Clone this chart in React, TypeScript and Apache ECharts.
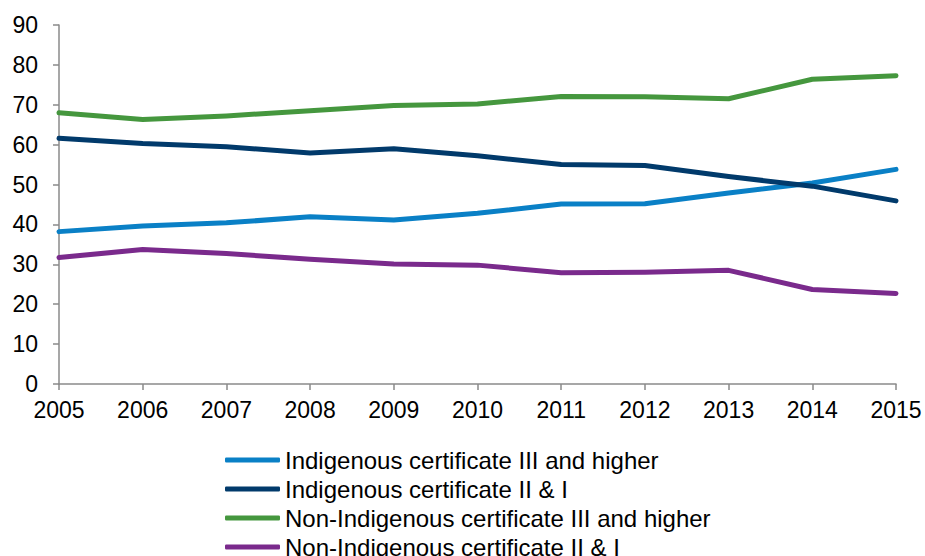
import React, { useEffect, useRef } from "react";
import * as echarts from "echarts";

const years = ["2005", "2006", "2007", "2008", "2009", "2010", "2011", "2012", "2013", "2014", "2015"];
const indigenousIIIHigher = [38.2, 39.6, 40.4, 41.9, 41.1, 42.8, 45.1, 45.2, 47.9, 50.4, 53.8];
const indigenousIII = [61.6, 60.3, 59.5, 57.9, 59.0, 57.2, 55.0, 54.8, 52.0, 49.6, 45.9];
const nonIndigenousIIIHigher = [68.0, 66.3, 67.2, 68.5, 69.8, 70.2, 72.1, 72.0, 71.5, 76.4, 77.3];
const nonIndigenousIII = [31.7, 33.7, 32.7, 31.3, 30.1, 29.8, 27.9, 28.0, 28.5, 23.7, 22.7];

const seriesNames = [
  "Indigenous certificate III and higher",
  "Indigenous certificate II & I",
  "Non-Indigenous certificate III and higher",
  "Non-Indigenous certificate II & I",
];
const seriesData = [indigenousIIIHigher, indigenousIII, nonIndigenousIIIHigher, nonIndigenousIII];
const colors = ["#0a80c6", "#013a6b", "#45973e", "#7a2a8c"];

export default function App() {
  const ref = useRef<HTMLDivElement>(null);
  useEffect(() => {
    if (!ref.current) return;
    const chart = echarts.init(ref.current, undefined, { renderer: "svg" });
    const font = "Arial, 'Liberation Sans', sans-serif";
    chart.setOption({
      animation: false,
      backgroundColor: "#ffffff",
      textStyle: { fontFamily: font },
      grid: { left: 59, right: 29, top: 25, bottom: 172, containLabel: false },
      xAxis: {
        type: "category",
        data: years,
        boundaryGap: false,
        axisLine: { lineStyle: { color: "#8a8a8a", width: 1.5 } },
        axisTick: { show: true, length: 6, lineStyle: { color: "#8a8a8a", width: 1.5 } },
        axisLabel: { color: "#000", fontSize: 23, fontFamily: font, margin: 14 },
        splitLine: { show: false },
      },
      yAxis: {
        type: "value",
        min: 0,
        max: 90,
        interval: 10,
        axisLine: { show: true, lineStyle: { color: "#8a8a8a", width: 1.5 } },
        axisTick: { show: true, length: 6, lineStyle: { color: "#8a8a8a", width: 1.5 } },
        axisLabel: { color: "#000", fontSize: 23, fontFamily: font, margin: 21 },
        splitLine: { show: false },
      },
      legend: {
        orient: "vertical",
        left: 225,
        top: 448,
        height: 140,
        padding: 0,
        itemWidth: 55,
        itemHeight: 5,
        itemGap: 5,
        icon: "roundRect",
        textStyle: { color: "#000", fontSize: 24, fontFamily: font },
        data: seriesNames,
      },
      series: seriesNames.map((name, i) => ({
        name,
        type: "line",
        data: seriesData[i],
        symbol: "none",
        color: colors[i],
        lineStyle: { width: 5, color: colors[i], cap: "round", join: "round" },
      })),
    });
    return () => chart.dispose();
  }, []);
  return <div ref={ref} style={{ width: 925, height: 556, position: "absolute", left: 0, top: 0 }} />;
}
